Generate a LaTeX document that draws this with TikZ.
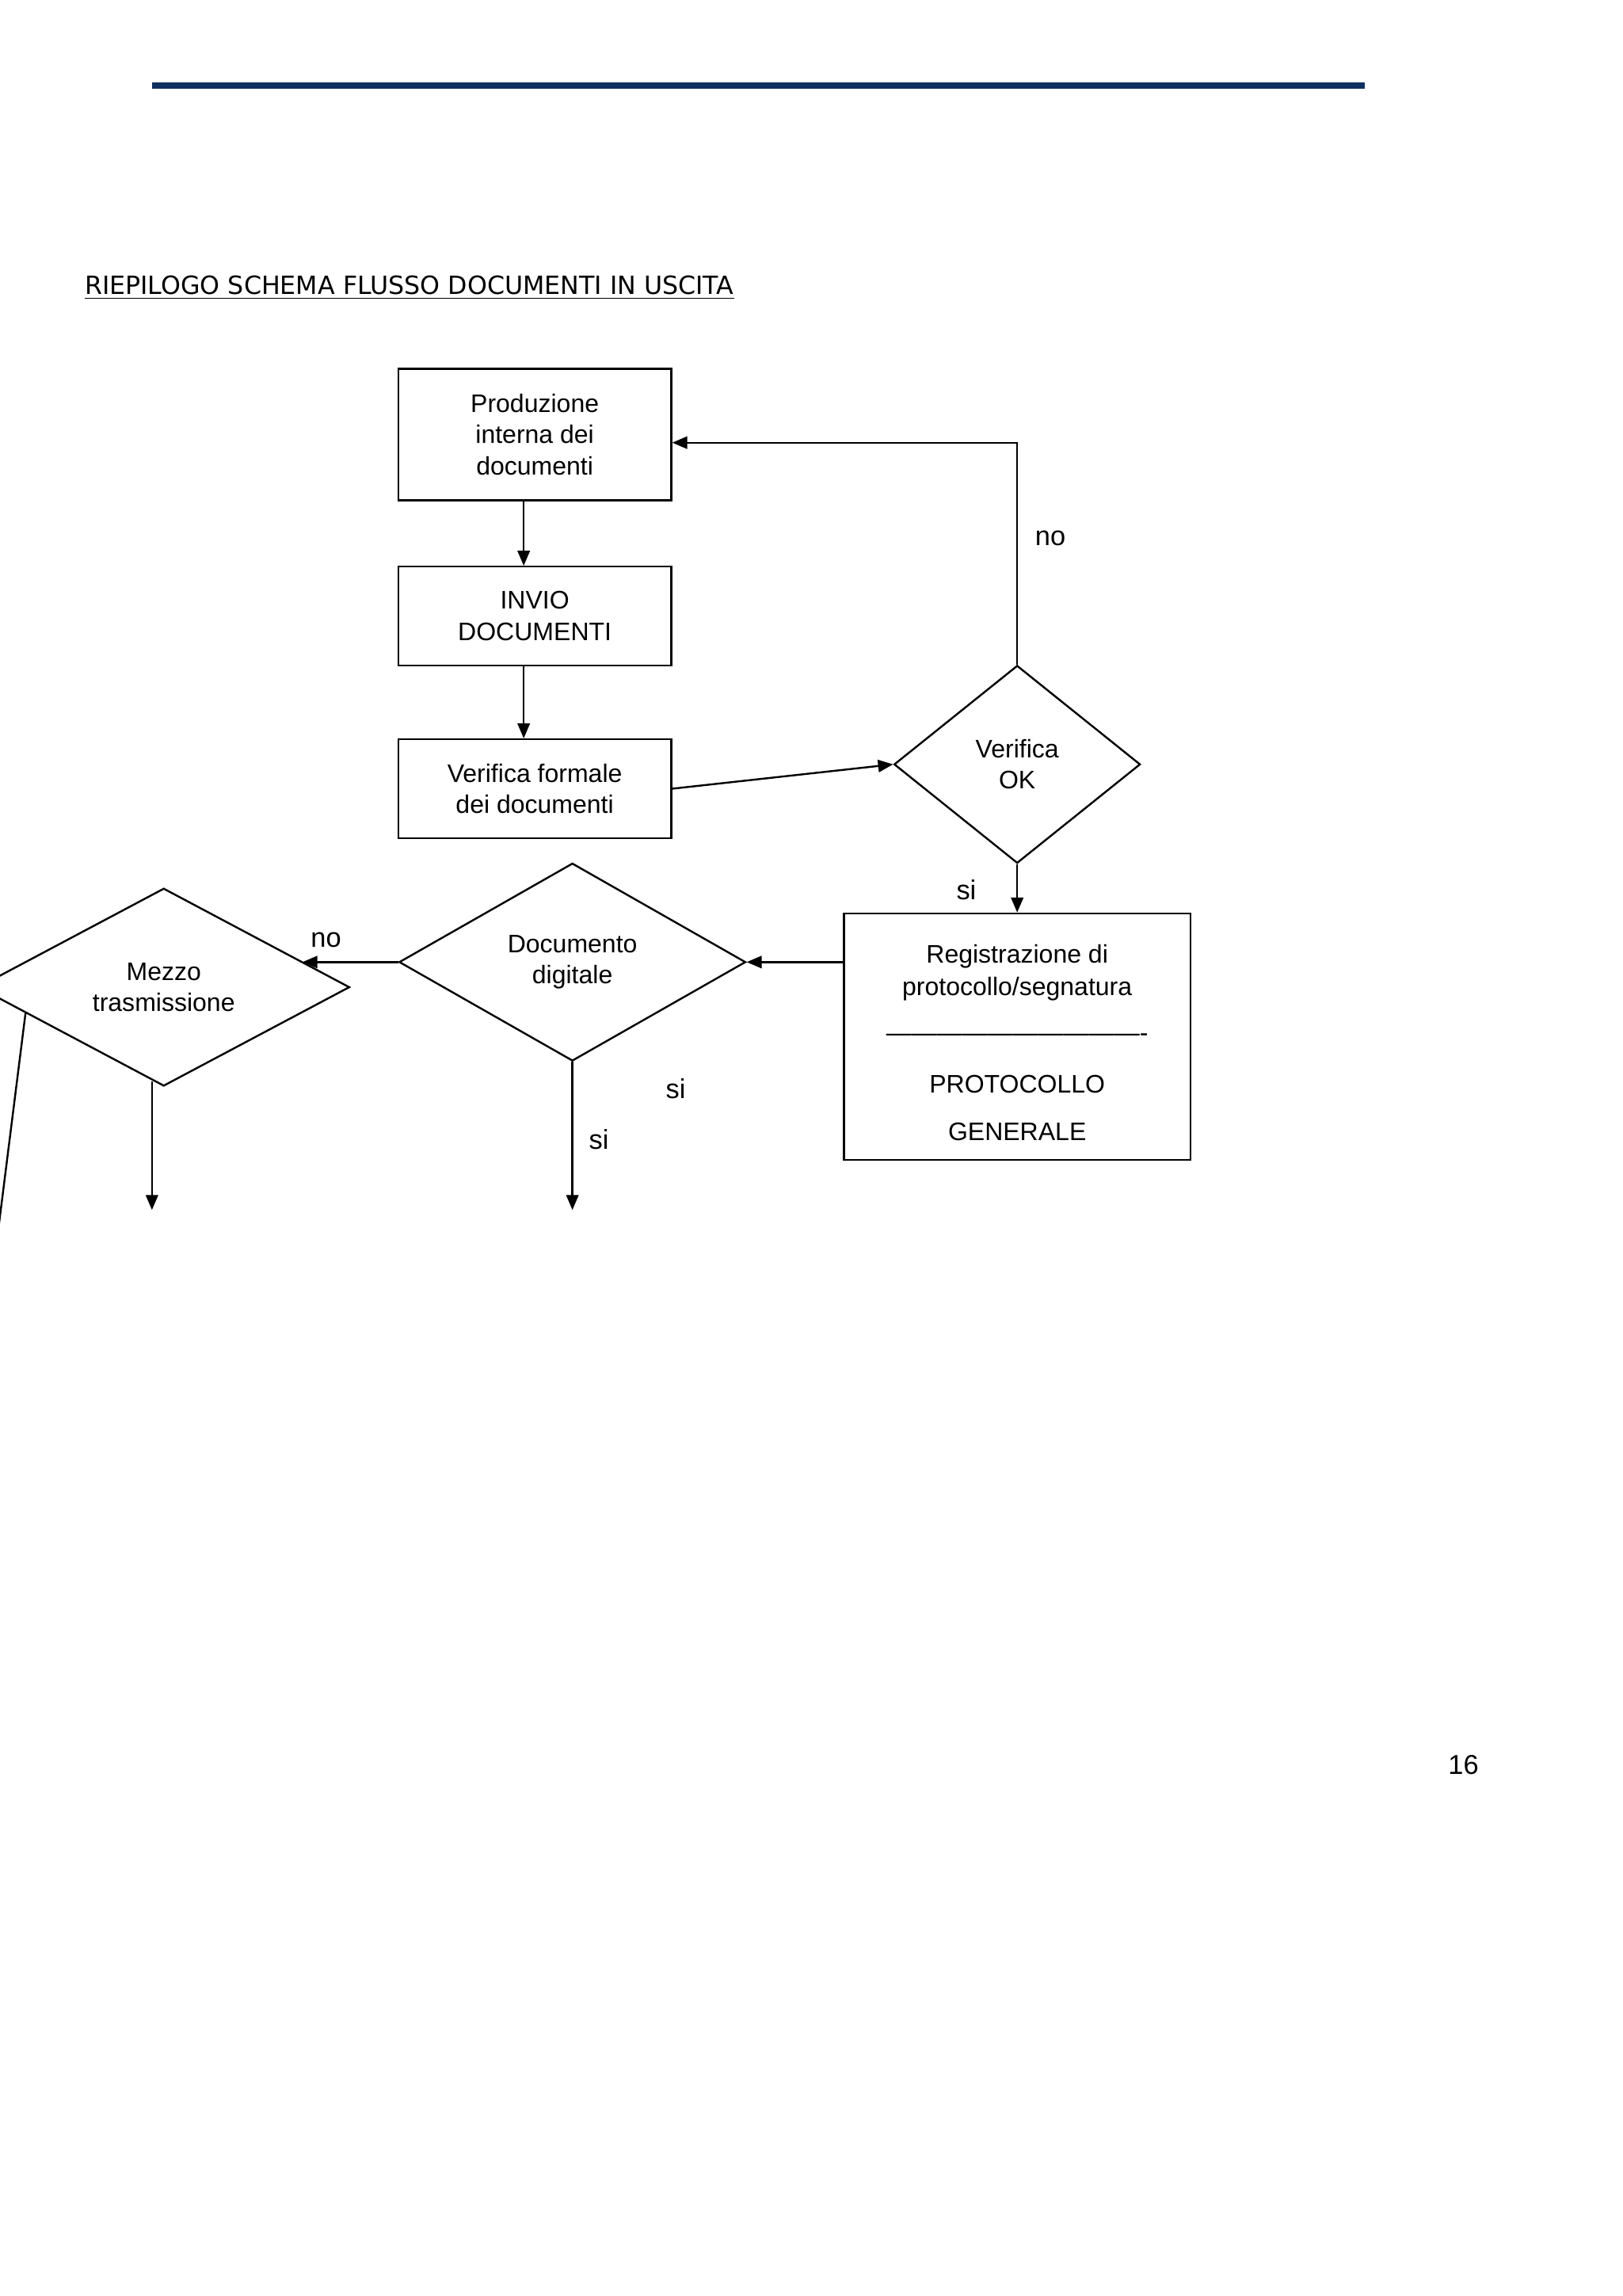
\documentclass[tikz,border=0pt]{standalone}
\usepackage{fontspec}
\setmainfont{Liberation Sans}
\newfontfamily\titlefont{DejaVu Sans}
\usetikzlibrary{shapes.geometric,arrows.meta,calc}
\begin{document}
\begin{tikzpicture}[x={(0.541pt,0)},y={(0,-0.541pt)},
  box/.style={draw,line width=0.7pt,minimum width=100.1pt,inner sep=0pt,align=center,font=\fontsize{9.3}{11.4}\selectfont},
  dia/.style={draw,diamond,line width=0.7pt,inner sep=0pt,align=center,font=\fontsize{9.3}{11.4}\selectfont},
  lab/.style={font=\fontsize{10}{12}\selectfont},
  arr/.style={line width=0.7pt,-{Triangle[length=5.5pt,width=4.5pt]}},
  ln/.style={line width=0.7pt}]
\useasboundingbox (0,0) rectangle (1100,1556);
\clip (0,0) rectangle (1100,1556);
\draw[line width=2.3pt,color={rgb,255:red,16;green,48;blue,96}] (103,58) -- (925,58);
\node[anchor=west,font=\titlefont\fontsize{9.2}{11}\selectfont] (title) at (51,195) {\underline{RIEPILOGO SCHEMA FLUSSO DOCUMENTI IN USCITA}};
\node[box,minimum height=48.2pt] (b1) at (362.5,294.5) {Produzione\\interna dei\\documenti};
\node[box,minimum height=36.2pt] (b2) at (362.5,417.5) {INVIO\\DOCUMENTI};
\node[box,minimum height=36.2pt] (b3) at (362.5,534.5) {Verifica formale\\dei documenti};
\node[dia,minimum width=90.3pt,minimum height=72.5pt,aspect=1.25] (v) at (689.5,518) {Verifica\\OK};
\node[draw,line width=0.7pt,minimum width=127.1pt,minimum height=90.3pt,inner sep=0pt] (r) at (689.5,702.5) {};
\node[lab,font=\fontsize{9.3}{11}\selectfont] (r1) at (689.5,648) {Registrazione di};
\node[lab,font=\fontsize{9.3}{11}\selectfont] (r2) at (689.5,670) {protocollo/segnatura};
\node[lab,font=\fontsize{9.3}{11}\selectfont] (r3) at (689.5,703) {-------------------------------};
\node[lab,font=\fontsize{9.3}{11}\selectfont] (r4) at (689.5,735) {PROTOCOLLO};
\node[lab,font=\fontsize{9.3}{11}\selectfont] (r5) at (689.5,767) {GENERALE};
\node[dia,minimum width=127.1pt,minimum height=72.5pt,aspect=1.75] (d) at (388,652) {Documento\\digitale};
\node[dia,minimum width=136.3pt,minimum height=72.5pt,aspect=1.88] (m) at (111,669) {Mezzo\\trasmissione};
\draw[arr] (b1.south -| 355,0) -- (b2.north -| 355,0);
\draw[arr] (b2.south -| 355,0) -- (b3.north -| 355,0);
\draw[arr] (b3.east) -- (v.west);
\draw[arr] (v.north) -- (689.5,300) -- (b1.east |- 0,300);
\draw[arr] (v.south) -- (r.north);
\draw[arr] (r.west |- d.east) -- (d.east);
\draw[arr] (d.west) -- (d.west -| 205,0);
\coordinate (dend) at (388,820);
\draw[arr] (d.south) -- (dend);
\coordinate (ms) at ($(m.south)+(-8,-4)$);
\coordinate (mend) at (103,820);
\draw[arr] (ms) -- (mend);
\coordinate (ml) at ($(m.west)!0.26!(m.south)$);
\coordinate (mfree) at (-2,840);
\draw[ln] (ml) -- (mfree);
\node[lab] (no1) at (712,365) {no};
\node[lab] (si1) at (655,603) {si};
\node[lab] (no2) at (221,637) {no};
\node[lab] (si2) at (458,738) {si};
\node[lab] (si3) at (406,772) {si};
\node[lab] (pg) at (992,1196) {16};
\end{tikzpicture}
\end{document}
